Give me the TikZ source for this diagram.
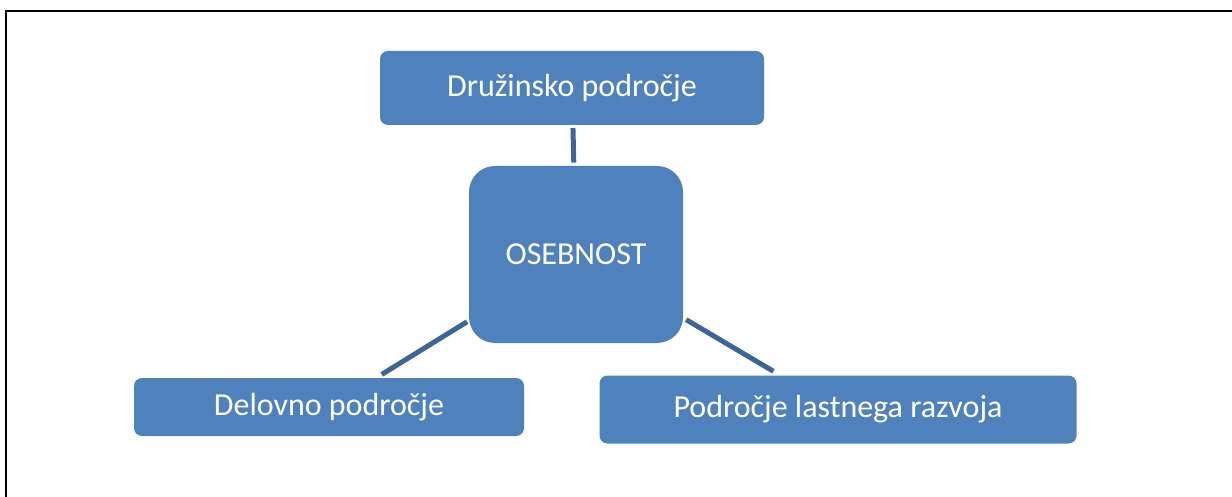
\documentclass[tikz,border=0pt]{standalone}
\usepackage{fontspec}
\setmainfont{Carlito}
\definecolor{boxblue}{HTML}{4F81BD}
\definecolor{linkblue}{HTML}{3D6697}
\begin{document}
\begin{tikzpicture}[x=1pt,y=1pt,
  area/.style={draw=none,fill=boxblue,text=white,inner sep=0pt,
    rounded corners=8pt,font=\fontsize{32}{38}\selectfont},
  core/.style={area,rounded corners=26pt},
  link/.style={draw=linkblue,line width=5pt}]
\useasboundingbox (0,0) rectangle (1232,-497);
% page frame (top and left edges)
\draw[line width=2.5pt] (6,-497) -- (6,-11) -- (1232,-11);
% boxes
\node[area,minimum width=384pt,minimum height=74pt] (fam) at (572,-88) {Družinsko področje};
\node[core,minimum width=214pt,minimum height=177pt] (ose) at (576,-254.5) {OSEBNOST};
\node[area,minimum width=390pt,minimum height=58pt] (work) at (329,-407) {Delovno področje};
\node[area,minimum width=477pt,minimum height=68pt] (grow) at (838,-409.5) {Področje lastnega razvoja};
% connectors
\draw[link,shorten <=40pt,shorten >=92pt] (fam.center) -- (ose.center);
\draw[link,shorten <=128pt,shorten >=62pt] (ose.center) -- (work.center);
\draw[link,shorten <=128pt,shorten >=75pt] (ose.center) -- (grow.center);
\end{tikzpicture}
\end{document}
